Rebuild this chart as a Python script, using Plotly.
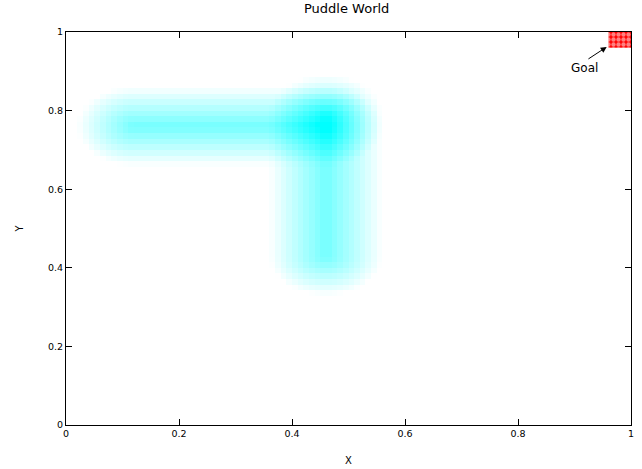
import numpy as np
import plotly.graph_objects as go

# Puddle definitions (segment endpoints, radius, peak shade)
PUDDLE_X1 = [0.12, 0.46]
PUDDLE_Y1 = [0.76, 0.43]
PUDDLE_X2 = [0.46, 0.46]
PUDDLE_Y2 = [0.76, 0.79]
PUDDLE_RADIUS = [0.10, 0.10]
PUDDLE_PEAK = [0.55, 0.55]

# Grid resolution seen in the picture
N_COLS = 100
N_ROWS = 70

# Goal region and label
GOAL_X = [0.96, 1.0, 1.0, 0.96, 0.96]
GOAL_Y = [0.96, 0.96, 1.0, 1.0, 0.96]
GOAL_LABEL = "Goal"
GOAL_ARROW_TIP = (0.957, 0.962)
GOAL_ARROW_TAIL = (0.922, 0.929)
GOAL_TEXT_POS = (0.918, 0.908)

TICK_VALS = [0, 0.2, 0.4, 0.6, 0.8, 1]
TICK_TEXT = ["0", "0.2", "0.4", "0.6", "0.8", "1"]

xs = (np.arange(N_COLS) + 0.5) / N_COLS
ys = (np.arange(N_ROWS) + 0.5) / N_ROWS
X, Y = np.meshgrid(xs, ys)
Z = np.zeros_like(X)
for x1, y1, x2, y2, r, pk in zip(PUDDLE_X1, PUDDLE_Y1, PUDDLE_X2, PUDDLE_Y2, PUDDLE_RADIUS, PUDDLE_PEAK):
    dx, dy = x2 - x1, y2 - y1
    L2 = dx * dx + dy * dy
    t = np.clip(((X - x1) * dx + (Y - y1) * dy) / L2, 0, 1)
    d = np.hypot(X - (x1 + t * dx), Y - (y1 + t * dy))
    Z += np.where(d < r, pk * (1 - d / r), 0.0)
Z = np.clip(Z, 0, 1)

fig = go.Figure()
fig.add_trace(go.Heatmap(
    x=xs, y=ys, z=Z, zmin=0, zmax=1,
    colorscale=[[0, "#ffffff"], [1, "#00ffff"]],
    showscale=False, hoverinfo="skip",
))
fig.add_trace(go.Scatter(
    x=GOAL_X, y=GOAL_Y, mode="lines", fill="toself",
    line=dict(width=0, color="red"),
    fillcolor="red",
    fillpattern=dict(shape=".", fgcolor="white", bgcolor="#ff0000", size=5, solidity=0.6),
    showlegend=False, hoverinfo="skip",
))

font = "DejaVu Sans"
fig.add_annotation(
    x=GOAL_ARROW_TIP[0], y=GOAL_ARROW_TIP[1], ax=GOAL_ARROW_TAIL[0], ay=GOAL_ARROW_TAIL[1],
    xref="x", yref="y", axref="x", ayref="y", text="", showarrow=True,
    arrowhead=2, arrowsize=1.2, arrowwidth=1, arrowcolor="black",
)
fig.add_annotation(
    x=GOAL_TEXT_POS[0], y=GOAL_TEXT_POS[1], xref="x", yref="y", text=GOAL_LABEL,
    showarrow=False, font=dict(family=font, size=12, color="black"),
)

axis_common = dict(
    range=[0, 1], tickvals=TICK_VALS, ticktext=TICK_TEXT,
    ticks="inside", ticklen=6, tickcolor="black", tickwidth=1,
    showline=True, linecolor="black", linewidth=1, mirror="ticks",
    showgrid=False, zeroline=False, automargin=False,
    tickfont=dict(family=font, size=9.5, color="black"),
)
fig.update_xaxes(**axis_common, title=dict(text="X", font=dict(family=font, size=10, color="black"), standoff=18))
fig.update_yaxes(**axis_common, title=dict(text="Y", font=dict(family=font, size=10, color="black"), standoff=22))

fig.update_layout(
    width=642, height=469,
    margin=dict(l=66, r=11, t=32, b=44),
    paper_bgcolor="white", plot_bgcolor="white",
    title=dict(text="Puddle World", x=0.54, xanchor="center", y=0.981, yanchor="middle",
               font=dict(family=font, size=13, color="black")),
    showlegend=False,
)
fig.write_html("out.html", config={"displayModeBar": False},
               post_script="document.body.style.margin='0';")
